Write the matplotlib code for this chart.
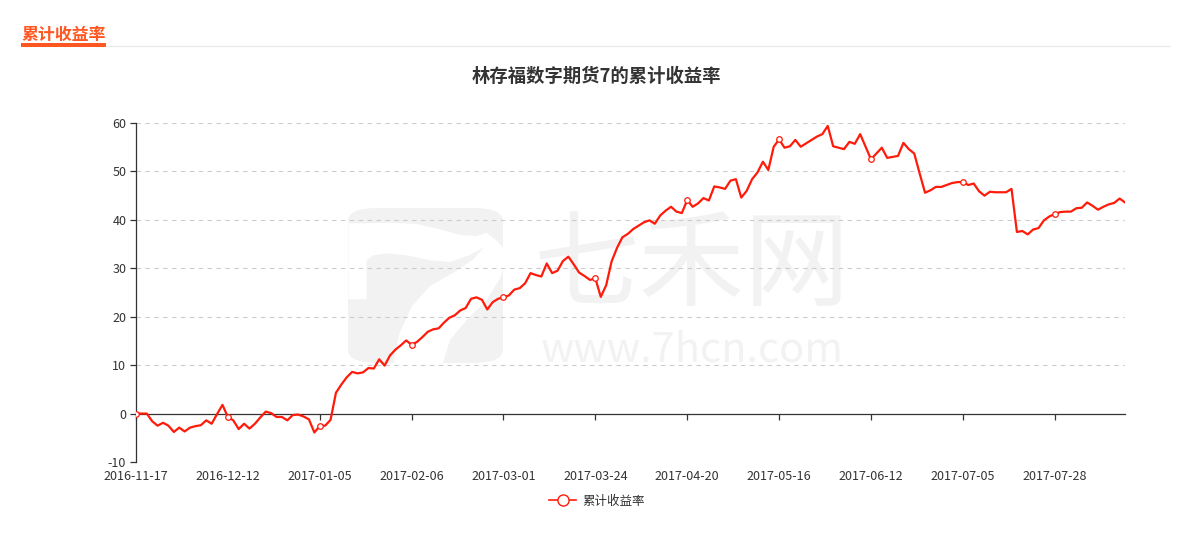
import matplotlib
matplotlib.use("Agg")
import matplotlib.pyplot as plt
import numpy as np
import pandas as pd
from matplotlib.patches import FancyBboxPatch, Rectangle, Polygon
from matplotlib.lines import Line2D
import matplotlib.transforms as mtransforms

plt.rcParams['font.family'] = ['Noto Sans CJK SC', 'DejaVu Sans']
plt.rcParams['axes.unicode_minus'] = False

# ---------------- data ----------------
holidays = ['2017-01-02', '2017-01-27', '2017-01-30', '2017-01-31',
            '2017-02-01', '2017-02-02', '2017-04-03', '2017-04-04', '2017-05-01',
            '2017-05-29', '2017-05-30']
dates = [d.strftime('%Y-%m-%d') for d in
         pd.bdate_range('2016-11-17', '2017-08-16', freq='C', holidays=holidays)]

returns = [
    0, 0, 0, -1.6, -2.5, -1.9, -2.5, -3.8, -2.9, -3.7,
    -2.9, -2.6, -2.4, -1.4, -2.1, -0.1, 1.8, -0.7, -1.4, -3.2,
    -2.1, -3.1, -2.1, -0.8, 0.4, 0.1, -0.7, -0.7, -1.4, -0.3,
    -0.2, -0.6, -1.2, -3.9, -2.6, -2.5, -1.3, 4.3, 6.0, 7.5,
    8.6, 8.3, 8.5, 9.4, 9.3, 11.2, 9.9, 12.0, 13.2, 14.1,
    15.1, 14.2, 14.8, 15.8, 16.9, 17.4, 17.6, 18.8, 19.8, 20.3,
    21.3, 21.8, 23.7, 24.0, 23.5, 21.5, 23.0, 23.7, 24.0, 24.4,
    25.6, 25.9, 26.9, 29.0, 28.6, 28.3, 31.0, 29.0, 29.5, 31.5,
    32.4, 30.8, 29.1, 28.4, 27.6, 27.9, 24.1, 26.5, 31.4, 34.2,
    36.4, 37.1, 38.1, 38.8, 39.5, 39.9, 39.2, 40.9, 41.9, 42.7,
    41.7, 41.4, 44.1, 42.7, 43.4, 44.5, 44.0, 46.9, 46.7, 46.4,
    48.1, 48.4, 44.6, 46.0, 48.4, 49.8, 52.0, 50.3, 55.1, 56.6,
    54.9, 55.2, 56.5, 55.1, 55.8, 56.5, 57.2, 57.7, 59.4, 55.2,
    54.9, 54.6, 56.1, 55.7, 57.7, 55.1, 52.5, 53.7, 54.9, 52.8,
    53.0, 53.2, 55.9, 54.6, 53.7, 49.6, 45.6, 46.1, 46.8, 46.8,
    47.2, 47.6, 47.8, 47.8, 47.2, 47.5, 45.9, 45.0, 45.8, 45.7,
    45.7, 45.7, 46.4, 37.5, 37.7, 37.0, 38.0, 38.3, 39.9, 40.7,
    41.2, 41.6, 41.7, 41.7, 42.4, 42.5, 43.6, 42.9, 42.1, 42.7,
    43.2, 43.5, 44.4, 43.6,
]
n = min(len(dates), len(returns))
dates = dates[:n]
returns = returns[:n]

y_ticks = [-10, 0, 10, 20, 30, 40, 50, 60]
label_step = 17
series_name = '累计收益率'
chart_title = '林存福数字期货7的累计收益率'
header_text = '累计收益率'

# ---------------- figure ----------------
W, H = 1193, 533
fig = plt.figure(figsize=(W / 100, H / 100), dpi=100)
fig.patch.set_facecolor('white')

def fx(px):
    return px / W

def fy(py):
    return 1 - py / H

# header
orange = '#ff5722'
fig.text(fx(21), fy(35), header_text, color=orange, fontsize=12.2,
         fontweight='bold', va='center', ha='left')
fig.add_artist(Line2D([fx(106), fx(1170)], [fy(46), fy(46)], color='#eaeaea',
                      linewidth=0.9, transform=fig.transFigure))
fig.add_artist(Rectangle((fx(21), fy(46.5)), fx(106) - fx(21), 3 / H,
                         color=orange, transform=fig.transFigure, linewidth=0))

# title
fig.text(0.5, fy(76), chart_title, color='#333333', fontsize=13.2,
         fontweight='bold', ha='center', va='center')

# watermark (logo + site name)
wm = '#f2f2f2'
fig.add_artist(FancyBboxPatch((fx(348), fy(363)), fx(155), 155 / H,
                              boxstyle='round,pad=0,rounding_size=0.025',
                              transform=fig.transFigure, facecolor=wm,
                              edgecolor='none', zorder=0))
zoom_pts = [(25, 70), (80, 70), (150, 68), (230, 72), (300, 88), (360, 105),
            (410, 108), (440, 98), (470, 122), (491, 145), (491, 200),
            (480, 235), (440, 300), (380, 360), (330, 420), (308, 491),
            (160, 491), (178, 400), (215, 320), (270, 258), (340, 218),
            (400, 178), (432, 142), (390, 165), (330, 186), (270, 181),
            (200, 166), (140, 160), (100, 166), (80, 180), (80, 298),
            (25, 298)]
poly = [(fx(340 + zx / 3), fy(200 + zy / 3)) for zx, zy in zoom_pts]
fig.add_artist(Polygon(poly, closed=True, transform=fig.transFigure,
                       facecolor='white', edgecolor='none', zorder=0.1))
fig.text(fx(692), fy(268), '七禾网', color=wm, fontsize=76, ha='center',
         va='center', zorder=0.2)
fig.text(fx(692), fy(350), 'www.7hcn.com', color=wm, fontsize=30,
         ha='center', va='center', zorder=0.2)

# axes
ax = fig.add_axes([fx(136), fy(462), fx(1125) - fx(136), (462 - 123) / H])
ax.set_facecolor('none')
ax.set_zorder(1)
x = np.arange(n)
ax.plot(x, returns, color='#ff1a0a', linewidth=1.6, marker='o',
        markersize=4, markerfacecolor='white', markeredgecolor='#ff1a0a',
        markeredgewidth=0.9, markevery=label_step, zorder=3,
        solid_joinstyle='round')

ax.set_xlim(0, n - 1)
ax.set_ylim(y_ticks[0], y_ticks[-1])
for yt in y_ticks:
    if yt != 0:
        ax.axhline(yt, color='#cccccc', linewidth=0.8, linestyle=(0, (4, 4)),
                   zorder=1)

for s in ['top', 'right']:
    ax.spines[s].set_visible(False)
ax.spines['left'].set_color('#333333')
ax.spines['left'].set_linewidth(0.9)
ax.spines['bottom'].set_position(('data', 0))
ax.spines['bottom'].set_color('#333333')
ax.spines['bottom'].set_linewidth(0.9)

ax.set_yticks(y_ticks)
ax.tick_params(axis='y', direction='out', length=4, width=0.9, color='#333333',
               labelsize=9, labelcolor='#333333', pad=3)
tick_pos = list(range(0, n, label_step))
ax.set_xticks(tick_pos)
ax.tick_params(axis='x', direction='out', length=4, width=0.9, color='#333333',
               labelbottom=False)
trans = mtransforms.blended_transform_factory(ax.transData, ax.transAxes)
for p in tick_pos:
    ax.text(p, -0.042, dates[p], transform=trans, ha='center', va='center',
            fontsize=9, color='#333333', clip_on=False)

# legend
handle = Line2D([0], [0], color='#ff1a0a', linewidth=1.2, marker='o',
                markersize=8, markerfacecolor='white', markeredgecolor='#ff1a0a',
                markeredgewidth=1.0)
leg = fig.legend([handle], [series_name], loc='center',
                 bbox_to_anchor=(fx(597), fy(501)), frameon=False, fontsize=9,
                 handlelength=2.2, handletextpad=0.5)
for t in leg.get_texts():
    t.set_color('#333333')

fig.savefig('out.png', dpi=100, facecolor='white')
